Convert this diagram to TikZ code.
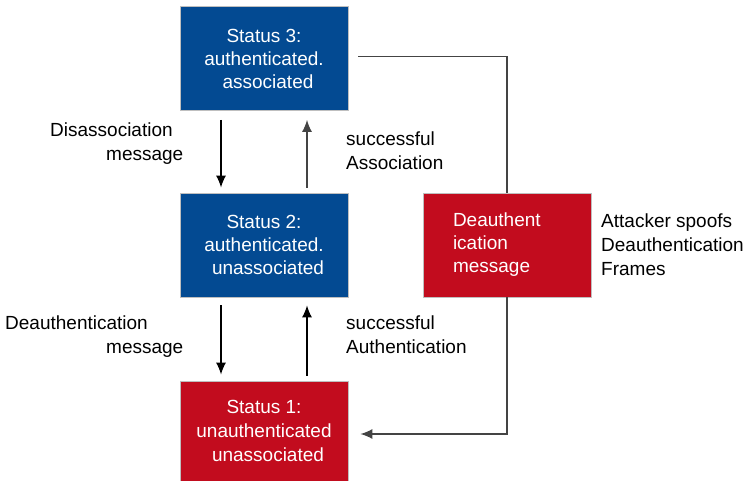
\documentclass[tikz,border=0pt]{standalone}
\usepackage{fontspec}
\setmainfont{Liberation Sans}
\usetikzlibrary{arrows.meta}
\definecolor{stblue}{HTML}{034A92}
\definecolor{stred}{HTML}{C20C1E}
\definecolor{linegray}{HTML}{444444}

\begin{document}
\begin{tikzpicture}[x=1pt,y=1pt,
  state/.style={draw=black!25,line width=0.8pt,text=white,minimum width=168pt,minimum height=104pt,
    align=center,font=\fontsize{19}{23}\selectfont},
  lbl/.style={inner sep=0pt,font=\fontsize{19}{24}\selectfont},
  arr/.style={line width=1.3pt,-{Latex[length=12pt,width=10pt]}},
  link/.style={line width=1.3pt,linegray}]
  \useasboundingbox (0,0) rectangle (746,481);
  \node[state,fill=stblue] (s3) at (264,422.5) {Status 3:\\authenticated.\\\hspace*{8pt}associated};
  \node[state,fill=stblue] (s2) at (264,236) {Status 2:\\authenticated.\\\hspace*{8pt}unassociated};
  \node[state,fill=stred,minimum height=100pt,font=\fontsize{19}{24}\selectfont] (s1) at (264,50) {Status 1:\\unauthenticated\\\hspace*{8pt}unassociated};
  \node[state,fill=stred,text width=108pt,align=left] (d) at (507,236) {Deauthent\\ication\\message};
  % transitions
  \draw[arr] ([xshift=-43pt,yshift=-9pt]s3.south) -- ([xshift=-43pt,yshift=5pt]s2.north);
  \draw[arr,linegray] ([xshift=43pt,yshift=5pt]s2.north) -- ([xshift=43pt,yshift=-9pt]s3.south);
  \draw[arr] ([xshift=-43pt,yshift=-8pt]s2.south) -- ([xshift=-43pt,yshift=6pt]s1.north);
  \draw[arr] ([xshift=43pt,yshift=5pt]s1.north) -- ([xshift=43pt,yshift=-8pt]s2.south);
  % attack path
  \draw[link] ([xshift=10pt,yshift=2pt]s3.east) -| (d.north);
  \draw[link,arr] (d.south) |- ([xshift=12pt,yshift=-3pt]s1.east);
  % labels
  \node[lbl,align=left,anchor=north west] (l1) at (50,358) {Disassociation\\\hspace*{56pt}message};
  \node[lbl,align=left,anchor=north west] (l2) at (346,349) {successful\\Association};
  \node[lbl,align=left,anchor=north west] (l3) at (5,165) {Deauthentication\\\hspace*{101pt}message};
  \node[lbl,align=left,anchor=north west] (l4) at (346,165) {successful\\Authentication};
  \node[lbl,align=left,anchor=west] (l5) at (601,236) {Attacker spoofs\\Deauthentication\\Frames};
\end{tikzpicture}
\end{document}
